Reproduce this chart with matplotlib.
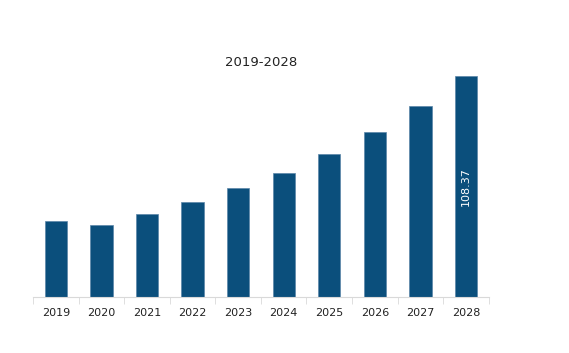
import matplotlib
matplotlib.use("Agg")
import matplotlib.pyplot as plt
import numpy as np

years = ["2019", "2020", "2021", "2022", "2023", "2024", "2025", "2026", "2027", "2028"]
values = [37.3, 35.3, 40.7, 46.6, 53.5, 60.8, 70.1, 80.9, 93.7, 108.37]
title = "2019-2028"
bar_color = "#0B4F7C"

fig = plt.figure(figsize=(5.69, 3.53), dpi=100)
ax = fig.add_axes([0.058, 0.1586, 0.801, 0.6934])
x = np.arange(len(years))
bars = ax.bar(x, values, width=0.49, color=bar_color, edgecolor="#5b86a8", linewidth=0.5)
ax.set_xlim(-0.5, len(years) - 0.5)
ax.set_ylim(0, 120)
ax.set_yticks([])
for s in ["top", "right", "left"]:
    ax.spines[s].set_visible(False)
ax.spines["bottom"].set_color("#d9d9d9")
ax.set_xticks(x)
ax.set_xticklabels(years, fontsize=8, color="#222222")
ax.tick_params(axis="x", length=0, pad=8)
ax.set_xticks(np.arange(-0.5, len(years), 1.0), minor=True)
ax.tick_params(axis="x", which="minor", length=5, color="#d9d9d9")
fig.text(261 / 569, 1 - 62 / 353, title, fontsize=9.5, color="#222222",
         ha="center", va="center")
ax.text(x[-1], values[-1] / 2, f"{values[-1]:.2f}", rotation=90, color="white",
        ha="center", va="center", fontsize=8)
fig.savefig("out.png", dpi=100)
